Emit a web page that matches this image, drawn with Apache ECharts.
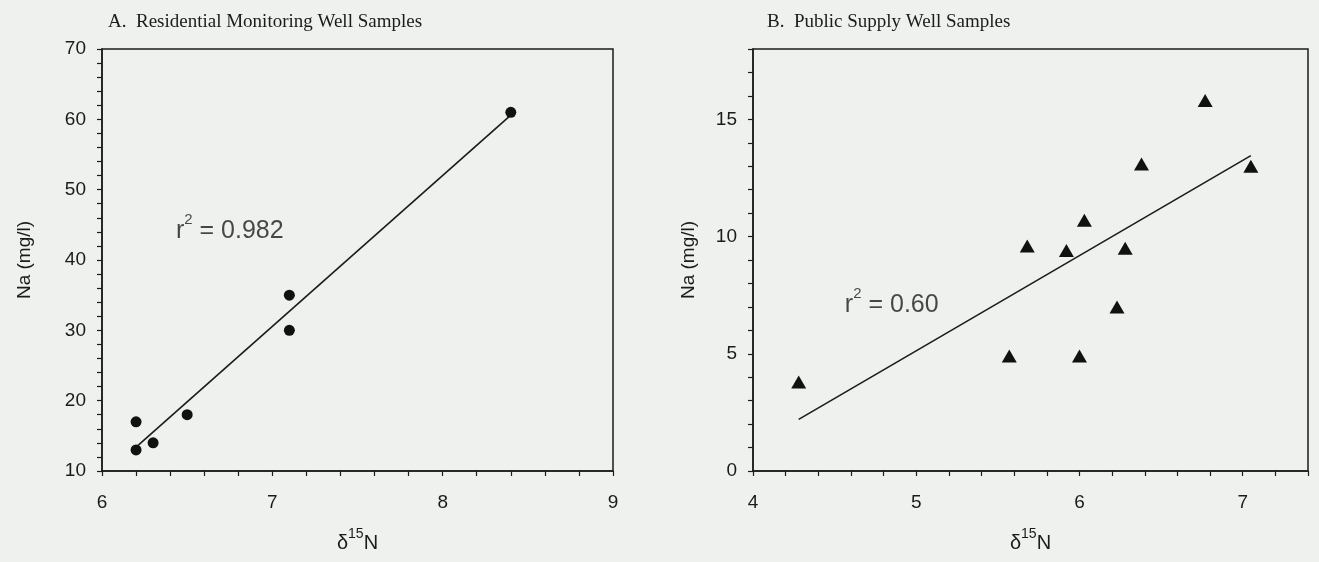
<!DOCTYPE html>
<html><head><meta charset="utf-8">
<script src="https://cdn.jsdelivr.net/npm/echarts@6/dist/echarts.min.js"></script>
<style>html,body{margin:0;padding:0;background:#eff1ee;}#c{width:1319px;height:562px;}</style>
</head><body><div id="c"></div>
<script>
// ---- data ----
const residentialD15N = [6.2, 6.2, 6.3, 6.5, 7.1, 7.1, 8.4];
const residentialNa   = [17, 13, 14, 18, 35, 30, 61];
const residentialFitD15N = [6.2, 8.4];
const residentialFitNa   = [13.4, 60.6];
const residentialR2 = '0.982';

const publicD15N = [4.28, 5.57, 5.68, 5.92, 6.0, 6.03, 6.23, 6.28, 6.38, 6.77, 7.05];
const publicNa   = [3.8, 4.9, 9.6, 9.4, 4.9, 10.7, 7.0, 9.5, 13.1, 15.8, 13.0];
const publicFitD15N = [4.28, 7.05];
const publicFitNa   = [2.2, 13.45];
const publicR2 = '0.60';

const leftXTickLabels  = [6, 7, 8, 9];
const leftYTickLabels  = [10, 20, 30, 40, 50, 60, 70];
const rightXTickLabels = [4, 5, 6, 7];
const rightYTickLabels = [0, 5, 10, 15];

const titleA = 'A.  Residential Monitoring Well Samples';
const titleB = 'B.  Public Supply Well Samples';
const yName = 'Na (mg/l)';

// ---- styling / layout ----
const sans = "'Liberation Sans', Arial, Helvetica, sans-serif";
const serif = "'Liberation Serif', 'Times New Roman', serif";
const ink = '#1b1b1b';

function zip(a, b) { return a.map((v, i) => [v, b[i]]); }
function pick(list) {
  return function (v) {
    const hit = list.find(t => Math.abs(t - v) < 1e-6);
    return hit === undefined ? '' : String(hit);
  };
}
function axis(min, max, interval, labels, margin, extra) {
  return Object.assign({
    type: 'value', min: min, max: max, interval: interval,
    axisLine: { show: true, onZero: false, lineStyle: { color: ink, width: 1.5 } },
    axisTick: { show: true, inside: false, length: 5, lineStyle: { color: ink, width: 1.2 } },
    axisLabel: { show: true, formatter: pick(labels), fontFamily: sans, fontSize: 19, color: ink, margin: margin },
    splitLine: { show: false }
  }, extra);
}
const xName = '{d|δ}{s|15}{n|N}';
const xNameStyle = {
  fontFamily: sans, color: ink,
  rich: {
    d: { fontFamily: sans, fontSize: 20, color: ink, lineHeight: 26, verticalAlign: 'bottom' },
    s: { fontFamily: sans, fontSize: 14, color: ink, lineHeight: 26, verticalAlign: 'top' },
    n: { fontFamily: sans, fontSize: 20, color: ink, lineHeight: 26, verticalAlign: 'bottom' }
  }
};
const yNameStyle = { fontFamily: sans, fontSize: 19, color: ink };
const noteRich = {
  r: { fontFamily: sans, fontSize: 25, color: ink, lineHeight: 31, verticalAlign: 'bottom' },
  s: { fontFamily: sans, fontSize: 15, color: ink, lineHeight: 31, verticalAlign: 'top' }
};

const option = {
  backgroundColor: '#eff1ee',
  animation: false,
  title: [
    { text: titleA, left: 103, top: 8, textStyle: { fontFamily: serif, fontSize: 19, fontWeight: 'normal', color: ink } },
    { text: titleB, left: 762, top: 8, textStyle: { fontFamily: serif, fontSize: 19, fontWeight: 'normal', color: ink } }
  ],
  grid: [
    { left: 102, top: 49, width: 511, height: 422, show: true, borderColor: ink, borderWidth: 1.5, backgroundColor: 'transparent' },
    { left: 753, top: 49, width: 555, height: 422, show: true, borderColor: ink, borderWidth: 1.5, backgroundColor: 'transparent' }
  ],
  xAxis: [
    axis(6, 9, 0.2, leftXTickLabels, 22, { gridIndex: 0, name: xName, nameLocation: 'middle', nameGap: 56, nameTextStyle: xNameStyle }),
    axis(4, 7.4, 0.2, rightXTickLabels, 22, { gridIndex: 1, name: xName, nameLocation: 'middle', nameGap: 56, nameTextStyle: xNameStyle })
  ],
  yAxis: [
    axis(10, 70, 2, leftYTickLabels, 16, { gridIndex: 0, name: yName, nameLocation: 'middle', nameGap: 68, nameTextStyle: yNameStyle }),
    axis(0, 18, 1, rightYTickLabels, 16, { gridIndex: 1, name: yName, nameLocation: 'middle', nameGap: 55, nameTextStyle: yNameStyle })
  ],
  series: [
    { type: 'line', xAxisIndex: 0, yAxisIndex: 0, data: zip(residentialFitD15N, residentialFitNa),
      symbol: 'none', lineStyle: { color: ink, width: 1.6 }, z: 2 },
    { type: 'scatter', xAxisIndex: 0, yAxisIndex: 0, data: zip(residentialD15N, residentialNa),
      symbol: 'circle', symbolSize: 11, itemStyle: { color: '#111', opacity: 1 }, z: 3 },
    { type: 'line', xAxisIndex: 1, yAxisIndex: 1, data: zip(publicFitD15N, publicFitNa),
      symbol: 'none', lineStyle: { color: ink, width: 1.6 }, z: 2 },
    { type: 'scatter', xAxisIndex: 1, yAxisIndex: 1, data: zip(publicD15N, publicNa),
      symbol: 'triangle', symbolSize: [15, 13], itemStyle: { color: '#111', opacity: 1 }, z: 3 },
    { type: 'scatter', xAxisIndex: 0, yAxisIndex: 0, data: [[6.75, 44.5]], symbolSize: 0, silent: true,
      label: { show: true, position: 'inside', formatter: '{r|r}{s|2}{r| = ' + residentialR2 + '}', rich: noteRich } },
    { type: 'scatter', xAxisIndex: 1, yAxisIndex: 1, data: [[4.85, 7.2]], symbolSize: 0, silent: true,
      label: { show: true, position: 'inside', formatter: '{r|r}{s|2}{r| = ' + publicR2 + '}', rich: noteRich } }
  ]
};
const chart = echarts.init(document.getElementById('c'));
chart.setOption(option);
</script>
</body></html>
